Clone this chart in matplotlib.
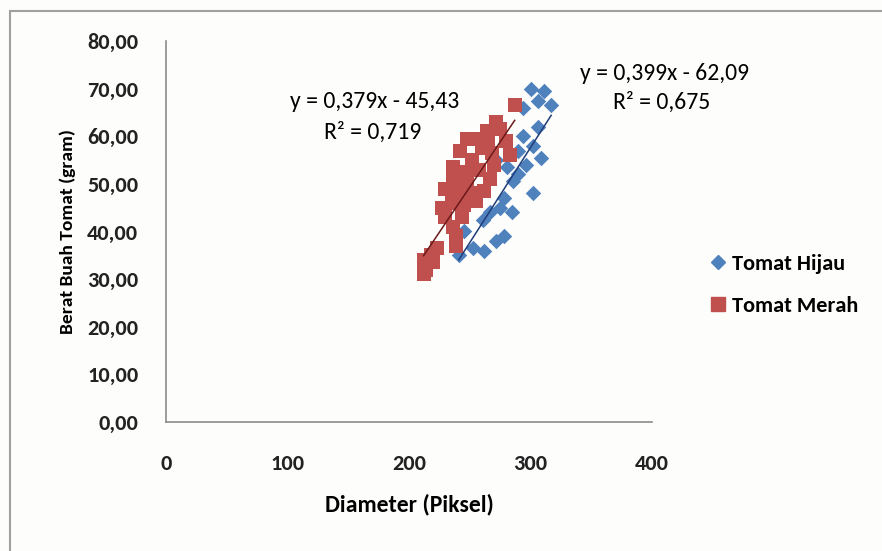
import matplotlib.pyplot as plt
from matplotlib import font_manager
from matplotlib.lines import Line2D
from matplotlib.patches import Rectangle
import numpy as np

# -------------------------
# Data: diameter (pixel) vs weight (gram)
# -------------------------
hijau_x = [300, 311, 306, 317, 294, 306, 294, 302, 309, 290, 272, 281, 302, 286,
           278, 267, 261, 245, 253, 241, 278, 272, 262, 290, 296, 275, 285]
hijau_y = [70.0, 69.5, 67.5, 66.5, 66.0, 62.0, 60.0, 58.0, 55.5, 57.0, 55.0, 53.5,
           48.0, 50.5, 47.0, 44.0, 42.5, 40.0, 36.5, 35.0, 39.0, 38.0, 36.0, 52.0,
           54.0, 45.0, 44.0]

merah_x = [287, 272, 264, 255, 248, 260, 242, 268, 280, 283, 252, 236, 236, 246,
           258, 267, 230, 240, 250, 262, 227, 235, 245, 255, 230, 236, 244, 239,
           239, 223, 218, 212, 214, 212, 220, 248, 270, 275, 265]
merah_y = [66.5, 63.0, 61.0, 59.5, 59.5, 57.5, 57.0, 56.5, 59.0, 56.0, 55.0, 53.5,
           51.5, 52.5, 53.0, 51.0, 49.0, 48.5, 48.0, 48.5, 45.0, 46.0, 45.5, 46.5,
           43.0, 41.0, 43.0, 39.0, 37.0, 36.5, 35.0, 34.0, 32.0, 31.0, 33.5, 50.0,
           54.0, 61.5, 58.5]

# trendline coefficients (slope, intercept, R²)
hijau_fit = (0.399, -62.09, 0.675)
merah_fit = (0.379, -45.43, 0.719)

blue = "#4F81BD"
red = "#C0504D"


def comma(v, nd):
    return f"{v:.{nd}f}".replace(".", ",")


# Calibri look-alike if available, Lato otherwise
installed = {f.name for f in font_manager.fontManager.ttflist}
base = "Carlito" if "Carlito" in installed else "Lato"
plt.rcParams["font.family"] = [base, "DejaVu Sans"]

W, H = 882, 551
fig = plt.figure(figsize=(W / 100, H / 100), dpi=100)
fig.patch.set_facecolor("#fdfdfb")
# chart frame (only top/left edges fall inside the image)
fig.patches.append(Rectangle((10 / W, -0.05), 1.2, 1 - 11 / H + 0.05,
                             transform=fig.transFigure, fill=False,
                             edgecolor="#a0a0a0", linewidth=1.5))

ax = fig.add_axes([166 / W, 1 - 422 / H, 486 / W, 381 / H])
ax.set_facecolor("none")

ax.scatter(hijau_x, hijau_y, marker="D", s=62, color=blue, linewidths=0, zorder=3)
ax.scatter(merah_x, merah_y, marker="s", s=100, color=red, linewidths=0, zorder=3)

# linear trendlines over the range of each series
for xs, (m, b, r2), lc in [(hijau_x, hijau_fit, "#1F3D7A"),
                           (merah_x, merah_fit, "#6B1A1A")]:
    xx = np.array([min(xs), max(xs)])
    ax.plot(xx, m * xx + b, color=lc, linewidth=1.1, zorder=4)

# equation labels, positioned in figure pixels
eq_size = 17
fig.text(375 / W, 1 - 102 / H,
         f"y = {comma(merah_fit[0], 3)}x - {comma(-merah_fit[1], 2)}",
         ha="center", va="center", fontsize=eq_size)
fig.text(373 / W, 1 - 132 / H, f"R² = {comma(merah_fit[2], 3)}",
         ha="center", va="center", fontsize=eq_size)
fig.text(665 / W, 1 - 73 / H,
         f"y = {comma(hijau_fit[0], 3)}x - {comma(-hijau_fit[1], 2)}",
         ha="center", va="center", fontsize=eq_size)
fig.text(662 / W, 1 - 102 / H, f"R² = {comma(hijau_fit[2], 3)}",
         ha="center", va="center", fontsize=eq_size)

ax.set_xlim(0, 400)
ax.set_ylim(0, 80)
ax.set_xticks([0, 100, 200, 300, 400])
ax.set_yticks(np.arange(0, 81, 10))
ax.set_yticklabels([comma(v, 2) for v in np.arange(0, 81, 10)])

for side in ["top", "right"]:
    ax.spines[side].set_visible(False)
for side in ["left", "bottom"]:
    ax.spines[side].set_color("#8c8c8c")
    ax.spines[side].set_linewidth(1.2)

ax.tick_params(axis="y", length=0, pad=20, labelsize=16)
ax.tick_params(axis="x", length=0, pad=23, labelsize=16)
for lab in ax.get_xticklabels() + ax.get_yticklabels():
    lab.set_fontweight("bold")
    lab.set_color("#222222")

ax.set_xlabel("Diameter (Piksel)", fontsize=17, fontweight="bold", labelpad=14)
ax.set_ylabel("Berat Buah Tomat (gram)", fontsize=14, fontweight="bold", labelpad=8)

handles = [Line2D([], [], marker="D", ms=7.6, color=blue, linestyle="none"),
           Line2D([], [], marker="s", ms=10, color=red, linestyle="none")]
leg = ax.legend(handles, ["Tomat Hijau", "Tomat Merah"], frameon=False,
                loc="center left", bbox_to_anchor=((710 - 166) / 486, (422 - 285) / 381),
                handlelength=0.7, handletextpad=0.3, labelspacing=1.0,
                borderpad=0, borderaxespad=0,
                prop={"size": 16, "weight": "bold"})

fig.savefig("out.png", dpi=100, facecolor=fig.get_facecolor())
